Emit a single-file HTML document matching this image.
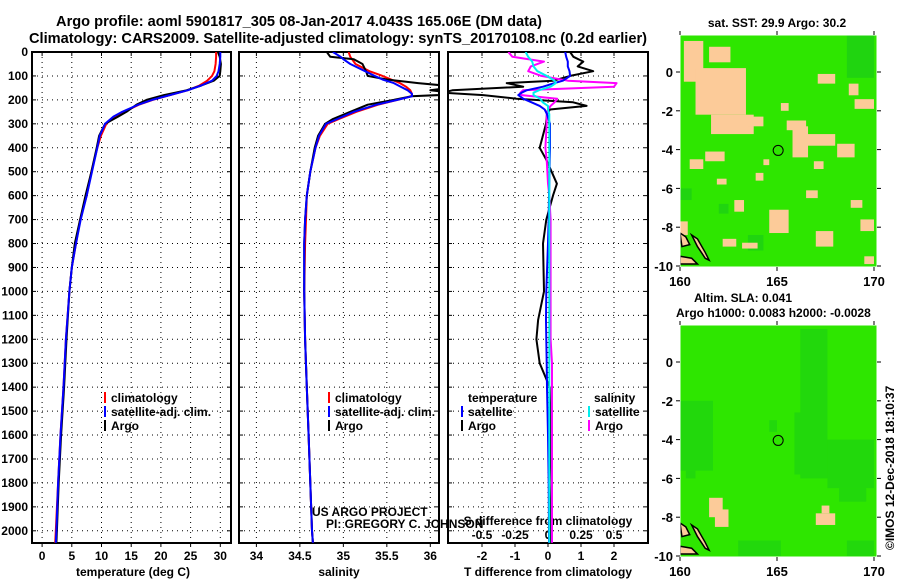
<!DOCTYPE html>
<html><head><meta charset="utf-8"><style>
body{margin:0;background:#fff}
svg{display:block;font-family:"Liberation Sans",Arial,sans-serif}
.b{font-weight:bold;font-size:12px}
.t{font-weight:bold;font-size:14.6px}
</style></head><body>
<svg id="c" width="900" height="580" viewBox="0 0 900 580">
<text class="t" x="299" y="26" text-anchor="middle">Argo profile: aoml 5901817_305 08-Jan-2017 4.043S 165.06E (DM data)</text>
<text class="t" x="338" y="43" text-anchor="middle">Climatology: CARS2009. Satellite-adjusted climatology: synTS_20170108.nc (0.2d earlier)</text>
</svg>
<script>
// ---- data ----
const depthLabels=[0,100,200,300,400,500,600,700,800,900,1000,1100,1200,1300,1400,1500,1600,1700,1800,1900,2000];
const tempTicks=[0,5,10,15,20,25,30];
const salTicks=[34,34.5,35,35.5,36];
const tdTicks=[-2,-1,0,1,2];
const sdTicks=[-0.5,-0.25,0,0.25,0.5];
const sdTickLabels=["-0.5","-0.25","0","0.25","0.5"];
const lonTicks=[160,165,170];
const latTicks=[0,-2,-4,-6,-8,-10];

const depthT=[0,20,50,80,100,120,140,160,180,200,220,250,270,300,350,400,500,600,700,800,900,1000,1200,1400,1600,1800,2000,2050];
const tempArgo=[29.6,29.9,30.1,30.0,29.9,28.9,26.8,24.3,20.5,17.6,15.9,14.2,12.8,10.6,9.6,9.2,8.3,7.3,6.4,5.5,5.0,4.6,4.1,3.7,3.2,2.8,2.5,2.4];
const tempClim=[29.3,29.3,29.2,29.0,28.6,27.8,26.5,24.5,21.5,18.6,16.3,13.8,12.2,10.8,9.9,9.3,8.3,7.5,6.4,5.7,5.0,4.6,4.0,3.6,3.1,2.7,2.3,2.2];
const tempSat=[30.0,30.0,29.9,29.7,29.4,28.6,26.8,24.5,21.5,18.5,16.2,13.5,12.0,10.6,9.7,9.3,8.4,7.5,6.5,5.7,5.0,4.6,4.0,3.6,3.1,2.7,2.4,2.3];

const depthS=[0,20,30,50,80,100,115,130,145,160,175,185,200,220,250,280,300,350,400,500,600,700,800,1000,1200,1400,1600,1800,2000,2050];
const salArgo=[34.81,34.85,35.12,35.22,35.26,35.28,35.5,35.86,36.3,36.0,36.4,35.78,35.58,35.28,35.08,34.88,34.79,34.71,34.67,34.62,34.58,34.56,34.55,34.55,34.56,34.58,34.6,34.62,34.64,34.65];
const salClim=[35.06,35.08,35.1,35.14,35.3,35.45,35.55,35.65,35.72,35.77,35.79,35.78,35.62,35.4,35.15,34.95,34.82,34.73,34.68,34.62,34.58,34.57,34.56,34.55,34.56,34.58,34.6,34.62,34.64,34.65];
const salSat=[34.88,34.97,35.0,35.08,35.25,35.36,35.45,35.58,35.66,35.74,35.79,35.79,35.62,35.38,35.12,34.93,34.8,34.72,34.68,34.62,34.58,34.56,34.55,34.55,34.56,34.58,34.6,34.62,34.64,34.65];

const depthD=[0,20,40,60,80,100,120,130,145,160,170,180,195,210,225,240,260,300,400,450,550,600,700,800,1000,1120,1200,1300,1400,1600,1800,2000,2050];
const tDiffArgo=[0.67,0.77,1.07,0.9,1.37,0.67,0.16,-1.25,-0.75,-2.9,-3.2,-1.96,-0.95,0.76,1.17,0.06,-0.03,-0.06,-0.25,-0.05,0.27,0.15,-0.05,-0.15,-0.12,-0.3,-0.35,-0.25,0.05,0.08,0.05,0.08,0.06];
const tDiffSat=[0.52,0.55,0.6,0.6,0.65,0.67,0.45,0.2,-0.15,-0.65,-0.8,-0.9,-0.75,-0.5,-0.25,-0.1,-0.03,0.06,0.06,0.05,0.04,0.03,0.02,0,-0.05,-0.06,-0.05,-0.04,-0.03,0,0.02,0.03,0.03];
const sDiffArgo=[-0.3,-0.27,-0.03,-0.13,-0.15,-0.05,0.15,0.52,0.5,-0.19,-0.21,-0.2,0.07,0.05,0.02,0,-0.01,-0.01,-0.02,-0.01,0,0.01,0.02,0.02,0.02,0.02,0.02,0.03,0.03,0.03,0.03,0.03,0.03];
const sDiffSat=[-0.17,-0.15,-0.12,-0.11,-0.08,-0.01,0.05,0.06,0.02,-0.07,-0.11,-0.11,-0.06,-0.04,0,0,0.01,0.01,0.01,0.01,0.01,0.01,0.01,0.01,0.01,0.01,0.01,0.01,0.01,0.01,0.01,0.01,0.01];

// map features [lon0,lat0,lon1,lat1]
const sstBeige=[[160.2,1.6,161.2,-0.5],[161.5,1.3,162.6,0.5],[160.8,0.2,163.4,-2.2],[161.6,-2.2,163.8,-3.2],[163.5,-2.3,164.3,-2.8],[165.8,-2.8,166.6,-4.4],[166.4,-3.2,168,-3.8],[165.5,-2.5,166.5,-3],[168.1,-3.7,169,-4.4],[169,-1.4,170,-1.9],[168.7,-0.6,169.2,-1.2],[167.1,-0.1,168,-0.6],[164.6,-7.1,165.6,-8.3],[167,-8.2,167.9,-9],[169.5,-9.5,170,-9.9],[160,-7.7,160.4,-8.4],[161.3,-4.1,162.3,-4.6],[160.5,-4.5,161.2,-5],[162.8,-6.6,163.3,-7.2],[163.9,-5.2,164.3,-5.6],[166.5,-6.1,167.1,-6.5],[168.8,-6.6,169.4,-7],[169.3,-7.6,170,-8.2],[162.2,-8.6,162.9,-9],[163.2,-8.8,164,-9.1],[165.2,-1.6,165.6,-2],[164.3,-4.5,164.6,-4.8],[166.9,-4.6,167.4,-5],[161.9,-5.5,162.4,-5.8]];
const sstDark=[[168.6,1.9,170,-0.3],[162,-6.8,162.5,-7.3],[163.5,-8.4,164.3,-9.2],[160,-6,160.6,-6.6]];
const slaDark=[[166.2,1.7,167.6,-6],[165.9,-2.6,166.4,-5.8],[167.6,-4,170,-6.5],[168.2,-6.5,169.6,-7.2],[160,-2,161.7,-5.6],[160.3,-5.6,160.8,-6],[163,-9.2,165.2,-10],[164.6,-3,165,-3.6],[168.6,-9.2,170,-10]];
const slaBeige=[[161.5,-7,162.2,-8],[161.8,-7.6,162.5,-8.5],[167,-7.8,168,-8.4],[167.3,-7.4,167.7,-7.8]];
const island=[[160,-8.3],[160.3,-8.5],[160.5,-8.9],[160.1,-9.0]];
const island2=[[160.6,-8.4],[160.9,-8.6],[161.3,-9.3],[161.5,-9.7],[161.3,-9.6],[160.9,-9.0]];
const island3=[[160,-9.5],[160.6,-9.6],[160.9,-9.9],[160,-9.9]];
const profLon=165.06, profLat=-4.043;

// ---- drawing ----
const NS='http://www.w3.org/2000/svg';
const svg=document.getElementById('c');
function mk(tag,attrs,parent){const e=document.createElementNS(NS,tag);for(const k in attrs)e.setAttribute(k,attrs[k]);(parent||svg).appendChild(e);return e;}
const yD=d=>52+d*0.2394;
const P1={x0:32,x1:231,min:-1.7,max:31.8};
const P2={x0:239,x1:439,min:33.8,max:36.1};
const P3={x0:448,x1:648,min:-3.03,max:3.03};
const sx=(p,v)=>p.x0+(v-p.min)/(p.max-p.min)*(p.x1-p.x0);
const sdx=v=>sx(P3,v*4);
const Y0=52,Y1=543;

const defs=mk('defs',{});
[P1,P2,P3].forEach((p,i)=>{const cp=mk('clipPath',{id:'cp'+i},defs);mk('rect',{x:p.x0,y:Y0,width:p.x1-p.x0,height:Y1-Y0},cp);});

function panel(p,i,ticks,name){
  const g=mk('g',{});
  
  
  depthLabels.forEach(d=>{const l=mk('line',{x1:p.x0,x2:p.x1,y1:yD(d),y2:yD(d),stroke:'#000','stroke-dasharray':'1,4','stroke-width':1},g);
    
    mk('line',{x1:p.x0,x2:p.x0+4,y1:yD(d),y2:yD(d),stroke:'#000'},g);mk('line',{x1:p.x1-4,x2:p.x1,y1:yD(d),y2:yD(d),stroke:'#000'},g);});
  ticks.forEach(v=>{const x=sx(p,v);const l=mk('line',{x1:x,x2:x,y1:Y0,y2:Y1,stroke:'#000','stroke-dasharray':'1,4'},g);
    
    mk('line',{x1:x,x2:x,y1:Y1,y2:Y1+4,stroke:'#000'},g);mk('line',{x1:x,x2:x,y1:Y0,y2:Y0+4,stroke:'#000'},g);});
  const r=mk('rect',{x:p.x0,y:Y0,width:p.x1-p.x0,height:Y1-Y0,fill:'none',stroke:'#000','stroke-width':2},g);
  
  return g;
}
function line(xs,ds,xf,color,clip,name,w){
  let d='';xs.forEach((v,k)=>{d+=(k?'L':'M')+xf(v).toFixed(1)+','+yD(ds[k]).toFixed(1);});
  const e=mk('path',{d:d,fill:'none',stroke:color,'stroke-width':w||2,'clip-path':'url(#cp'+clip+')','stroke-linejoin':'round'});
  
}
function txt(s,x,y,cls,anchor,name,extra){const e=mk('text',Object.assign({x:x,y:y,'class':cls||'b','text-anchor':anchor||'start'},extra||{}));e.textContent=s;
  return e;}

panel(P1,0,tempTicks,'temperature-panel');
panel(P2,1,salTicks,'salinity-panel');
panel(P3,2,tdTicks,'difference-panel');

depthLabels.forEach(d=>txt(String(d),28,yD(d)+4,'b','end','depth-tick-label'));
tempTicks.forEach(v=>txt(String(v),sx(P1,v),560,'b','middle','temperature-tick-label'));
salTicks.forEach(v=>txt(String(v),sx(P2,v),560,'b','middle','salinity-tick-label'));
tdTicks.forEach(v=>txt(String(v),sx(P3,v),560,'b','middle','t-diff-tick-label'));
sdTicks.forEach((v,k)=>txt(sdTickLabels[k],sdx(v),539,'b','middle','s-diff-tick-label'));
txt('temperature (deg C)',133,576,'b','middle','temperature-axis-title');
txt('salinity',339,576,'b','middle','salinity-axis-title');
txt('T difference from climatology',548,576,'b','middle','t-diff-axis-title');
txt('S difference from climatology',548,525,'b','middle','s-diff-axis-title');

line(tempClim,depthT,v=>sx(P1,v),'#f00',0,'temp-climatology-line');
line(tempArgo,depthT,v=>sx(P1,v),'#000',0,'temp-argo-line');
line(tempSat,depthT,v=>sx(P1,v),'#00f',0,'temp-satellite-line');
line(salClim,depthS,v=>sx(P2,v),'#f00',1,'sal-climatology-line');
line(salArgo,depthS,v=>sx(P2,v),'#000',1,'sal-argo-line');
line(salSat,depthS,v=>sx(P2,v),'#00f',1,'sal-satellite-line');
line(tDiffArgo,depthD,v=>sx(P3,v),'#000',2,'t-diff-argo-line');
line(sDiffArgo,depthD,sdx,'#f0f',2,'s-diff-argo-line');
line(tDiffSat,depthD,v=>sx(P3,v),'#00f',2,'t-diff-satellite-line');
line(sDiffSat,depthD,sdx,'#0ee',2,'s-diff-satellite-line');

function legend(x,y,color,label,name){const g=mk('g',{});
  mk('rect',{x:x,y:y-10,width:2,height:11,fill:color},g);const t=mk('text',{x:x+7,y:y,'class':'b'},g);t.textContent=label;}
legend(104,402,'#f00','climatology','legend-climatology');
legend(104,416,'#00f','satellite-adj. clim.','legend-satellite-adj');
legend(104,430,'#000','Argo','legend-argo');
legend(328,402,'#f00','climatology','legend-sal-climatology');
legend(328,416,'#00f','satellite-adj. clim.','legend-sal-satellite-adj');
legend(328,430,'#000','Argo','legend-sal-argo');
txt('temperature',468,402,'b','start','legend-temperature-header');
legend(461,416,'#00f','satellite','legend-t-satellite');
legend(461,430,'#000','Argo','legend-t-argo');
txt('salinity',594,402,'b','start','legend-salinity-header');
legend(588,416,'#0ee','satellite','legend-s-satellite');
legend(588,430,'#f0f','Argo','legend-s-argo');
txt('US ARGO PROJECT',312,516,'','start','project-credit',{style:'font-size:12px'});
txt('PI: GREGORY C. JOHNSON',326,528,'','start','pi-credit',{style:'font-size:12px'});

// maps
function map(M,beige,dark,darkColor,name){
  const lx=v=>M.x0+(v-160)*19.4, ly=v=>M.yz-v*19.4;
  const g=mk('g',{});
  const cid='mc'+name;const cp=mk('clipPath',{id:cid},defs);mk('rect',{x:M.x0,y:M.y0,width:M.x1-M.x0,height:M.y1-M.y0},cp);
  const inner=mk('g',{'clip-path':'url(#'+cid+')'},g);
  mk('rect',{x:M.x0,y:M.y0,width:M.x1-M.x0,height:M.y1-M.y0,fill:'#2ee600'},inner);
  dark.forEach(r=>{const e=mk('rect',{x:lx(r[0]),y:ly(r[1]),width:(r[2]-r[0])*19.4,height:(r[1]-r[3])*19.4,fill:darkColor},inner);});
  beige.forEach(r=>{const e=mk('rect',{x:lx(r[0]),y:ly(r[1]),width:(r[2]-r[0])*19.4,height:(r[1]-r[3])*19.4,fill:'#fccb99'},inner);});
  [island,island2,island3].forEach(pl=>{const e=mk('polygon',{points:pl.map(p=>lx(p[0])+','+ly(p[1])).join(' '),fill:'#fccb99',stroke:'#000','stroke-width':1.5},inner);});
  const c=mk('circle',{cx:lx(profLon),cy:ly(profLat),r:5,fill:'none',stroke:'#000','stroke-width':1},g);
  
  mk('rect',{x:M.x0,y:M.y0,width:M.x1-M.x0,height:M.y1-M.y0,fill:'none',stroke:'#fff','stroke-width':1},g);
  latTicks.forEach(v=>{const y=ly(v);mk('line',{x1:M.x0-4,x2:M.x0,y1:y,y2:y,stroke:'#000'},g);mk('line',{x1:M.x1,x2:M.x1+4,y1:y,y2:y,stroke:'#000'},g);
    txt(String(v),M.x0-7,y+5,'b','end','map-lat-label',{style:'font-size:13px'});});
  lonTicks.forEach(v=>{const x=lx(v);mk('line',{x1:x,x2:x,y1:M.y1,y2:M.y1+4,stroke:'#000'},g);mk('line',{x1:x,x2:x,y1:M.y0-4,y2:M.y0,stroke:'#000'},g);
    txt(String(v),x,M.y1+19,'b','middle','map-lon-label',{style:'font-size:13px'});});
}
map({x0:680,x1:877,y0:35,y1:267,yz:72},sstBeige,sstDark,'#20d410','sst-map');
map({x0:680,x1:877,y0:325,y1:557,yz:362},slaBeige,slaDark,'#22d80c','sla-map');
txt('sat. SST: 29.9 Argo: 30.2',777,27,'b','middle','sst-map-title');
txt('Altim. SLA: 0.041',694,302,'b','start','sla-map-title');
txt('Argo h1000: 0.0083 h2000: -0.0028',676,317,'b','start','argo-height-title');
txt('©IMOS 12-Dec-2018 18:10:37',894,550,'','start','imos-credit',{style:'font-size:12px',transform:'rotate(-90 894 550)'});
</script>
</body></html>
